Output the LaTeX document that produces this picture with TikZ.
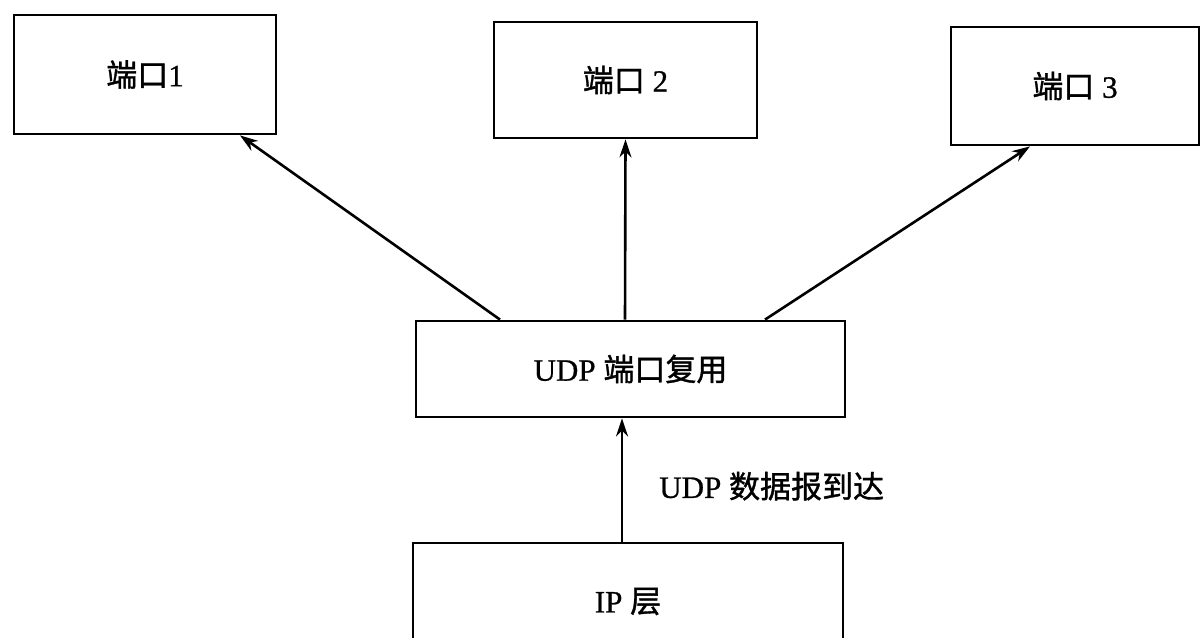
\documentclass[tikz,border=0pt]{standalone}
\usepackage{fontspec}
\setmainfont[FakeBold=0.8]{Liberation Serif}
\newfontfamily\cjk[FakeBold=1.2]{Noto Sans CJK SC}
\newcommand\zh[1]{{\cjk #1}}
\usetikzlibrary{arrows.meta}
\begin{document}
\begin{tikzpicture}[x=1pt,y=-1pt,
  box/.style={draw, line width=2.8pt, inner sep=0pt, font=\fontsize{31}{36}\selectfont},
  lbl/.style={font=\fontsize{31}{36}\selectfont, inner sep=0pt},
  arr/.style={-{Stealth[length=18pt,width=12pt]}, line width=2.6pt}]
\useasboundingbox (0,0) rectangle (1201,637);
\node[box, minimum width=262pt, minimum height=119pt] (p1) at (145,74.5) {\zh{端口}1};
\node[box, minimum width=263pt, minimum height=116pt] (p2) at (625.5,80) {\zh{端口} 2};
\node[box, minimum width=248pt, minimum height=118pt] (p3) at (1075,86) {\zh{端口} 3};
\node[box, minimum width=429pt, minimum height=96pt] (udp) at (630.5,369) {\raisebox{-8pt}{UDP \zh{端口复用}}};
\node[box, minimum width=430pt, minimum height=117pt] (ip) at (628,601.5) {IP \zh{层}};
\draw[arr] ([xshift=-130.5pt]udp.north) -- ([xshift=95pt]p1.south);
\draw[arr] ([xshift=-5.5pt]udp.north) -- ([xshift=0pt]p2.south);
\draw[arr] ([xshift=134.5pt]udp.north) -- ([xshift=-45pt]p3.south);
\draw[arr] ([xshift=-6pt]ip.north) -- ([xshift=-8.5pt]udp.south)
  node[lbl, pos=0.45, anchor=west, xshift=36pt] (lab) {UDP \zh{数据报到达}};
\end{tikzpicture}
\end{document}
